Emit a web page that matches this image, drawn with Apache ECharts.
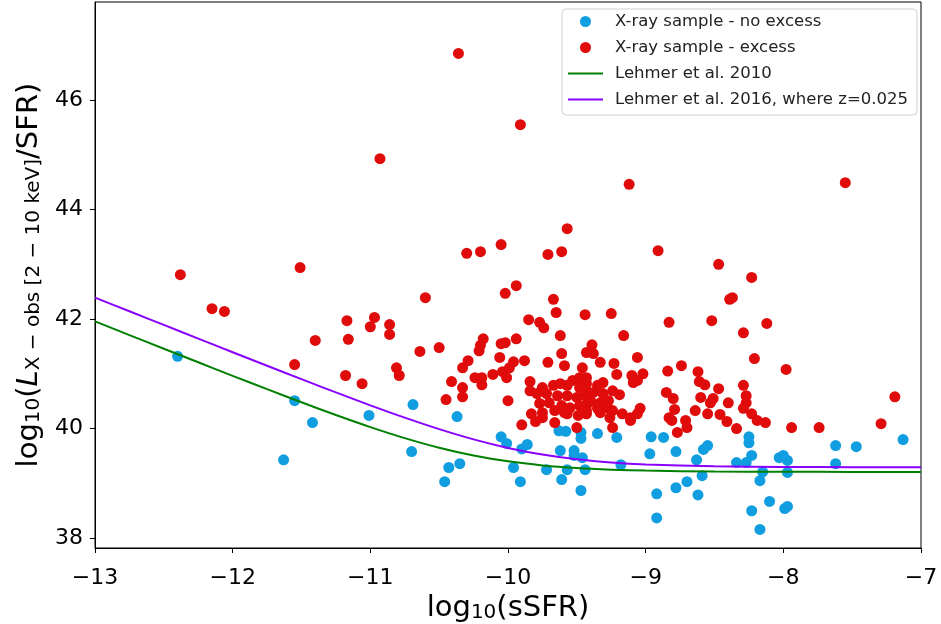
<!DOCTYPE html>
<html>
<head>
<meta charset="utf-8">
<script src="https://cdn.jsdelivr.net/npm/echarts@6/dist/echarts.min.js"></script>
<style>
html, body { margin: 0; padding: 0; background: #fff; }
#chart { width: 941px; height: 624px; }
</style>
</head>
<body>
<div id="chart"></div>
<script>
// log10(sSFR), log10(Lx/SFR) pairs
var noExcess = [
  [-12.40,41.32],[-11.63,39.43],[-11.55,40.51],[-11.42,40.11],[-11.01,40.24],[-10.69,40.44],
  [-10.70,39.58],[-10.43,39.29],[-10.35,39.36],[-10.46,39.03],[-10.37,40.22],[-10.05,39.85],
  [-10.01,39.73],[-9.96,39.29],[-9.91,39.03],[-9.90,39.63],[-9.86,39.71],[-9.63,39.96],
  [-9.58,39.95],[-9.62,39.60],[-9.52,39.60],[-9.47,39.93],[-9.47,39.82],[-9.52,39.51],
  [-9.72,39.25],[-9.57,39.25],[-9.61,39.07],[-9.46,39.47],[-9.44,39.25],[-9.47,38.87],
  [-9.35,39.91],[-9.21,39.84],[-9.18,39.34],[-8.96,39.85],[-8.87,39.84],[-8.97,39.54],
  [-8.78,39.58],[-8.92,38.81],[-8.92,38.37],[-8.78,38.92],[-8.70,39.03],[-8.62,38.79],
  [-8.59,39.14],[-8.63,39.43],[-8.58,39.62],[-8.55,39.69],[-8.34,39.38],[-8.27,39.38],
  [-8.25,39.85],[-8.25,39.74],[-8.23,39.51],[-8.15,39.21],[-8.17,39.05],[-8.10,38.67],
  [-8.23,38.50],[-8.17,38.16],[-8.03,39.47],[-8.00,39.51],[-7.97,39.42],[-7.97,39.20],
  [-7.99,38.54],[-7.97,38.58],[-7.62,39.69],[-7.62,39.36],[-7.47,39.67],[-7.13,39.80]
];

var excess = [
  [-12.38,42.81],[-12.15,42.19],[-12.06,42.14],[-11.51,42.94],[-11.55,41.17],[-11.40,41.61],
  [-11.17,41.97],[-11.16,41.63],[-11.18,40.97],[-11.06,40.82],[-10.97,42.03],[-11.00,41.86],
  [-10.86,41.90],[-10.86,41.72],[-10.93,44.93],[-10.81,41.11],[-10.79,40.97],[-10.60,42.39],
  [-10.64,41.41],[-10.50,41.48],[-10.45,40.53],[-10.36,46.85],[-10.30,43.20],[-10.20,43.23],
  [-10.05,43.36],[-9.91,45.55],[-10.02,42.47],[-9.94,42.61],[-9.71,43.18],[-9.61,43.23],
  [-9.57,43.65],[-9.12,44.46],[-8.91,43.25],[-8.47,43.00],[-8.23,42.76],[-8.39,42.36],
  [-8.37,42.39],[-7.55,44.49],[-9.67,42.36],[-9.65,42.12],[-9.85,41.99],[-9.77,41.94],
  [-9.74,41.84],[-9.44,42.08],[-9.25,42.10],[-9.16,41.70],[-9.62,41.70],[-8.83,41.94],
  [-8.52,41.97],[-8.12,41.92],[-8.29,41.75],[-8.21,41.28],[-7.98,41.08],[-7.19,40.58],
  [-7.29,40.09],[-7.94,40.02],[-7.74,40.02],
  [-10.41,40.86],[-10.33,41.11],[-10.29,41.24],[-10.33,40.75],[-10.33,40.58],[-10.24,40.93],
  [-10.19,40.93],[-10.19,40.80],[-10.21,41.42],[-10.20,41.52],[-10.18,41.64],[-10.06,41.30],
  [-10.05,41.55],[-10.02,41.57],[-10.11,40.99],[-10.04,41.04],[-10.01,40.93],[-10.00,40.51],
  [-9.94,41.64],[-9.96,41.22],[-9.88,41.24],[-9.99,41.11],[-9.84,40.86],[-9.84,40.69],
  [-9.90,40.07],[-9.61,41.37],[-9.71,41.21],[-9.59,41.15],[-9.43,41.39],[-9.39,41.53],
  [-9.38,41.37],[-9.46,41.11],[-9.48,40.93],[-9.33,41.21],[-9.23,41.19],[-9.21,40.99],
  [-9.06,41.30],[-9.02,41.00],[-9.10,40.97],[-9.09,40.84],[-9.06,40.88],[-9.66,40.11],
  [-9.50,40.02],[-9.24,40.02],
  [-9.75,40.75],[-9.67,40.79],[-9.62,40.82],[-9.57,40.79],[-9.53,40.88],[-9.48,40.75],
  [-9.43,40.82],[-9.79,40.64],[-9.72,40.64],[-9.64,40.60],[-9.57,40.60],[-9.50,40.57],
  [-9.44,40.60],[-9.77,40.46],[-9.70,40.47],[-9.61,40.42],[-9.55,40.38],[-9.48,40.42],
  [-9.42,40.46],[-9.83,40.27],[-9.75,40.29],[-9.66,40.33],[-9.57,40.27],[-9.49,40.24],
  [-9.43,40.27],[-9.31,40.84],[-9.35,40.79],[-9.44,40.91],[-9.43,40.69],[-9.38,40.66],
  [-9.31,40.64],[-9.24,40.69],[-9.19,40.62],[-9.27,40.51],[-9.33,40.47],[-9.40,40.51],
  [-9.43,40.33],[-9.35,40.37],[-9.28,40.38],[-9.24,40.33],[-9.17,40.27],[-9.11,40.20],
  [-9.04,40.37],[-9.06,40.27],[-8.84,41.05],[-8.85,40.66],[-8.83,40.20],[-9.80,40.13],
  [-9.11,40.15],[-8.81,40.15],[-8.41,40.13],[-9.75,40.20],[-9.59,40.29],[-9.33,40.29],
  [-9.26,40.20],[-9.43,40.93],
  [-8.74,41.15],[-8.62,41.04],[-8.61,40.86],[-8.57,40.80],[-8.47,40.73],[-8.80,40.55],
  [-8.60,40.57],[-8.51,40.55],[-8.53,40.47],[-8.40,40.47],[-8.29,40.79],[-8.27,40.60],
  [-8.27,40.47],[-8.79,40.35],[-8.64,40.33],[-8.55,40.27],[-8.46,40.26],[-8.29,40.37],
  [-8.23,40.27],[-8.19,40.15],[-8.13,40.11],[-8.71,40.15],[-8.70,40.02],[-8.77,39.93],
  [-8.34,40.00]
];

// relation curves, read at these sSFR values
var sSFRGrid = [-13,-12.75,-12.5,-12.25,-12,-11.75,-11.5,-11.25,-11,-10.75,-10.5,-10.25,-10,-9.75,-9.5,-9.25,-9,-8.5,-8,-7.5,-7];
var lehmer2010 = [41.957,41.708,41.459,41.211,40.964,40.720,40.481,40.248,40.028,39.827,39.651,39.509,39.402,39.328,39.280,39.251,39.233,39.217,39.212,39.210,39.210];
var lehmer2016 = [42.392,42.143,41.893,41.644,41.395,41.148,40.903,40.661,40.425,40.200,39.990,39.803,39.647,39.526,39.439,39.381,39.345,39.311,39.299,39.296,39.295];

var yTicks = [38, 40, 42, 44, 46];

function pairUp(xs, ys) {
  return xs.map(function (x, i) { return [x, ys[i]]; });
}
function minusSign(v) {
  return v < 0 ? '\u2212' + Math.abs(v) : String(v);
}

var chart = echarts.init(document.getElementById('chart'));
var FONT = 'DejaVu Sans';
var LINE_ICON = 'path://M0,0H35V2H0Z';

// rich styles for the axis titles (subscripts pushed down)
var titleRich = {
  n: { fontFamily: FONT, fontSize: 29, color: '#000', lineHeight: 32, verticalAlign: 'bottom' },
  i: { fontFamily: FONT, fontSize: 29, fontStyle: 'italic', color: '#000', lineHeight: 32, verticalAlign: 'bottom' },
  s: { fontFamily: FONT, fontSize: 20, color: '#000', lineHeight: 10, verticalAlign: 'bottom' }
};

chart.setOption({
  animation: false,
  textStyle: { fontFamily: FONT },
  grid: {
    left: 95, right: 20, top: 2, bottom: 76,
    outerBoundsMode: 'none',
    containLabel: false,
    show: true, borderColor: '#000', borderWidth: 1
  },
  legend: {
    left: 562, top: 9,
    orient: 'vertical',
    padding: [4, 9, 7, 6],
    itemGap: 9,
    itemWidth: 35,
    itemHeight: 11,
    borderColor: '#d0d0d0',
    borderWidth: 1,
    borderRadius: 4,
    backgroundColor: '#fff',
    textStyle: { fontFamily: FONT, fontSize: 16.5, color: '#222', lineHeight: 17, padding: [0, 0, 0, 7] },
    data: [
      { name: 'X-ray sample - no excess' },
      { name: 'X-ray sample - excess' },
      { name: 'Lehmer et al. 2010', icon: LINE_ICON },
      { name: 'Lehmer et al. 2016, where z=0.025', icon: LINE_ICON }
    ]
  },
  xAxis: {
    type: 'value',
    min: -13, max: -7, interval: 1,
    name: '{n|log}{s|10}{n|(sSFR)}',
    nameLocation: 'middle',
    nameGap: 37,
    nameTextStyle: { rich: titleRich },
    axisLine: { lineStyle: { color: '#000', width: 1 } },
    axisTick: { length: 5, lineStyle: { color: '#000' } },
    axisLabel: { fontFamily: FONT, fontSize: 22, color: '#000', margin: 19, formatter: minusSign },
    splitLine: { show: false }
  },
  yAxis: {
    type: 'value',
    min: 37.82, max: 47.79,
    name: '{n|log}{s|10}{n|(}{i|L}{s|X \u2212 obs [2 \u2212 10 keV]}{n|/SFR)}',
    nameLocation: 'middle',
    nameGap: 46,
    nameTextStyle: { rich: titleRich },
    axisLine: { show: true, lineStyle: { color: '#000', width: 1 } },
    axisTick: { show: true, length: 5, lineStyle: { color: '#000' }, customValues: yTicks },
    axisLabel: { fontFamily: FONT, fontSize: 22, color: '#000', margin: 12, customValues: yTicks },
    splitLine: { show: false }
  },
  series: [
    {
      name: 'X-ray sample - no excess',
      type: 'scatter',
      data: noExcess,
      symbolSize: 11,
      itemStyle: { color: '#109ee0', opacity: 1 },
      z: 2
    },
    {
      name: 'X-ray sample - excess',
      type: 'scatter',
      data: excess,
      symbolSize: 11,
      itemStyle: { color: '#e00b0b', opacity: 1 },
      z: 3
    },
    {
      name: 'Lehmer et al. 2010',
      type: 'line',
      data: pairUp(sSFRGrid, lehmer2010),
      symbol: 'none',
      smooth: 0.3,
      lineStyle: { color: '#008000', width: 2 },
      itemStyle: { color: '#008000' },
      z: 4
    },
    {
      name: 'Lehmer et al. 2016, where z=0.025',
      type: 'line',
      data: pairUp(sSFRGrid, lehmer2016),
      symbol: 'none',
      smooth: 0.3,
      lineStyle: { color: '#8a00ff', width: 2 },
      itemStyle: { color: '#8a00ff' },
      z: 4
    }
  ]
});
</script>
</body>
</html>
